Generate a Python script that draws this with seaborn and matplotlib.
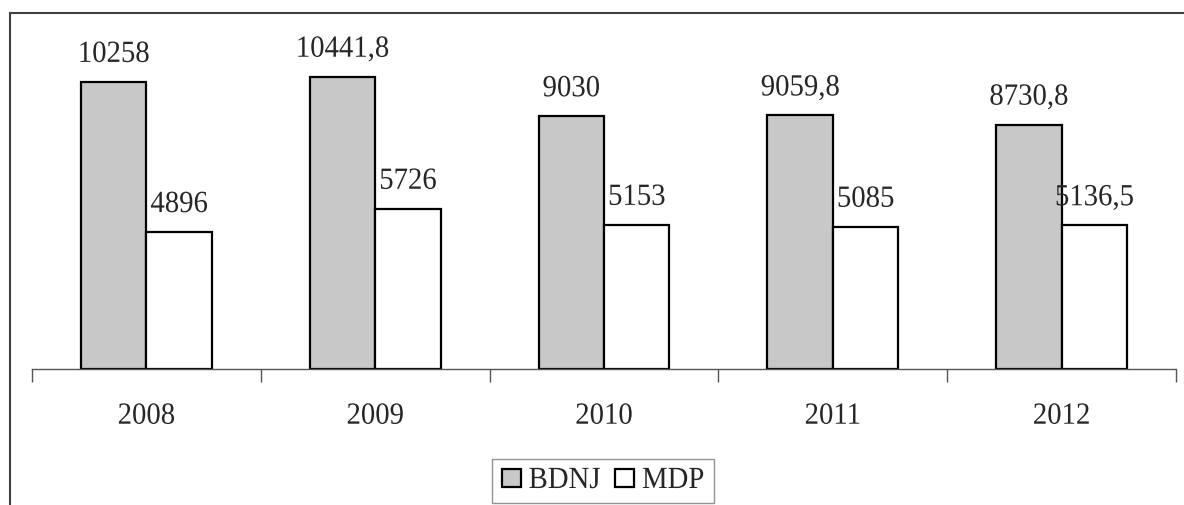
import matplotlib
matplotlib.use("Agg")
import matplotlib.pyplot as plt
import matplotlib.patheffects as pe
from matplotlib.transforms import Affine2D
import seaborn as sns
import pandas as pd
from matplotlib.patches import Rectangle

years = ["2008", "2009", "2010", "2011", "2012"]
bdnj = [10258, 10441.8, 9030, 9059.8, 8730.8]
mdp = [4896, 5726, 5153, 5085, 5136.5]
series_names = ["BDNJ", "MDP"]
series_colors = ["#c8c8c8", "#ffffff"]

df = pd.DataFrame({
    "year": years * 2,
    "value": bdnj + mdp,
    "series": [series_names[0]] * len(years) + [series_names[1]] * len(years),
})

sns.set_theme(style="white")
plt.rcParams["font.family"] = ["Liberation Serif", "DejaVu Serif"]
FS = 20.7


class VStretch(pe.AbstractPathEffect):
    """Draw text glyphs stretched vertically about their baseline."""

    def __init__(self, sy):
        super().__init__()
        self.sy = sy

    def draw_path(self, renderer, gc, tpath, affine, rgbFace=None):
        renderer.draw_path(gc, tpath, Affine2D().scale(1, self.sy) + affine, rgbFace)


TALL = [VStretch(1.07)]

fig = plt.figure(figsize=(11.84, 5.05), dpi=100)
ax = fig.add_axes([32 / 1184, 136 / 505, (1176 - 32) / 1184, 336 / 505])

sns.barplot(
    data=df, x="year", y="value", hue="series", order=years,
    hue_order=series_names, palette=series_colors, width=0.572,
    edgecolor="black", linewidth=1.6, saturation=1, ax=ax, legend=False,
)

# value labels above each bar, decimal comma
def fmt(v):
    return f"{v:g}".replace(".", ",")

for cont, vals in zip(ax.containers, [bdnj, mdp]):
    texts = ax.bar_label(cont, labels=[fmt(v) for v in vals], padding=10, fontsize=FS)
    for t in texts:
        t.set_path_effects(TALL)

ax.set_xlim(-0.5, len(years) - 0.5)
ax.set_ylim(0, 12000)
ax.set_xlabel("")
ax.set_ylabel("")
ax.set_yticks([])
for s in ["top", "right", "left"]:
    ax.spines[s].set_visible(False)
ax.spines["bottom"].set_color("#555555")
ax.spines["bottom"].set_linewidth(1.0)

# category boundary ticks, labels at centres
ax.set_xticks([i - 0.5 for i in range(len(years) + 1)])
ax.set_xticklabels([])
ax.set_xticks(range(len(years)), minor=True)
ax.set_xticklabels(years, minor=True, fontsize=FS)
for t in ax.get_xticklabels(minor=True):
    t.set_path_effects(TALL)
ax.tick_params(axis="x", which="major", direction="out", length=9, width=1.0,
               color="#555555", bottom=True)
ax.tick_params(axis="x", which="minor", length=0, pad=25)

# legend below the axis
handles = [Rectangle((0, 0), 1, 1, facecolor=c, edgecolor="black", linewidth=1.6)
           for c in series_colors]
leg = fig.legend(handles, series_names, loc="center",
                 bbox_to_anchor=(603 / 1184, 1 - 481 / 505), ncol=2,
                 fontsize=FS, frameon=True, fancybox=False,
                 handlelength=0.66, handleheight=0.6, handletextpad=0.28,
                 columnspacing=0.5, borderpad=0.32, borderaxespad=0)
leg.get_frame().set_edgecolor("#777777")
leg.get_frame().set_linewidth(1.0)
for t in leg.get_texts():
    t.set_path_effects(TALL)

# outer chart border
fig.patches.append(Rectangle((10 / 1184, -0.1), 1.2, 1.1 - 13 / 505,
                             transform=fig.transFigure, fill=False,
                             edgecolor="#404040", linewidth=1.5))

fig.savefig("out.png", dpi=100)
